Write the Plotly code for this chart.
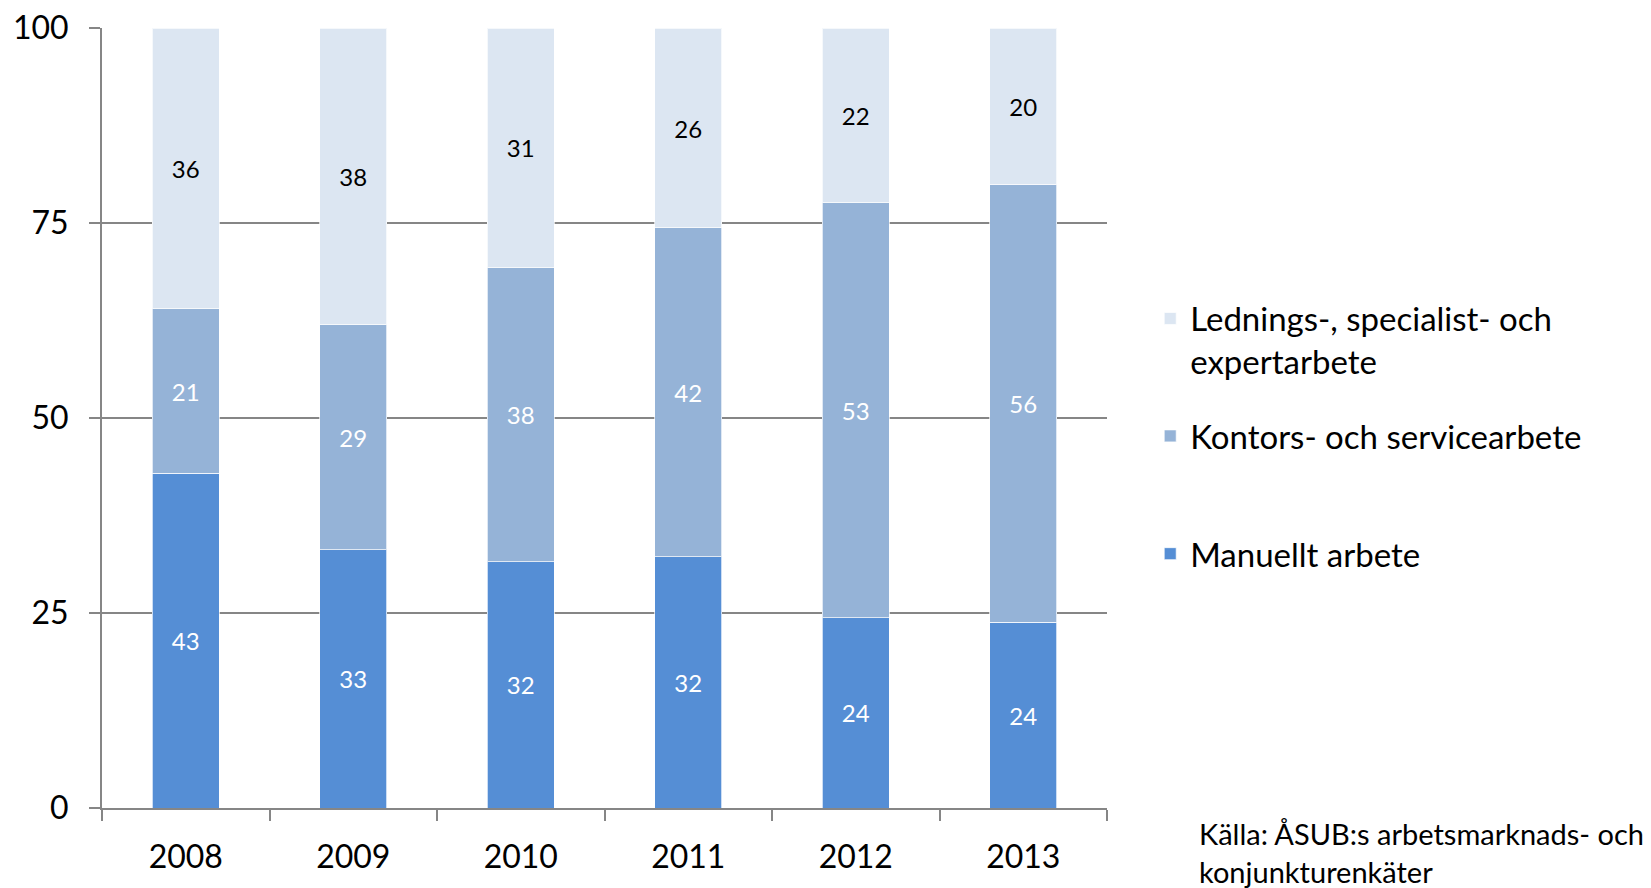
import plotly.graph_objects as go

years = ["2008", "2009", "2010", "2011", "2012", "2013"]
manuellt = [42.9, 33.1, 31.6, 32.2, 24.4, 23.8]
kontor = [21.1, 28.9, 37.7, 42.2, 53.2, 56.2]
ledning = [36.0, 38.0, 30.7, 25.6, 22.4, 20.0]

names = ["Manuellt arbete", "Kontors- och servicearbete",
         "Lednings-, specialist- och<br>expertarbete"]
colors = ["#558ED5", "#95B3D7", "#DCE6F2"]
text_colors = ["white", "white", "black"]
legends = ["legend3", "legend2", "legend"]

FONT = "Lato"
GRID = "#868686"

fig = go.Figure()
for vals, name, col, tcol, leg in zip([manuellt, kontor, ledning], names, colors, text_colors, legends):
    fig.add_trace(go.Bar(
        x=years, y=vals, name=name,
        marker=dict(color=col, line=dict(color="rgba(255,255,255,0.7)", width=1)),
        text=vals, texttemplate="%{y:.0f}",
        textposition="inside", insidetextanchor="middle",
        textfont=dict(family=FONT, size=24, color=tcol),
        legend=leg, showlegend=True,
    ))

leg_common = dict(x=1.043, xanchor="left", yanchor="middle", valign="top",
                  font=dict(family=FONT, size=33, color="black"),
                  bgcolor="rgba(0,0,0,0)")

# page body has an 8px margin, so the figure is 8px smaller and margins shifted
fig.update_layout(
    barmode="stack",
    bargap=0.6,
    width=1643, height=880,
    margin=dict(l=94, r=544, t=20, b=80, autoexpand=False),
    paper_bgcolor="white", plot_bgcolor="white",
    font=dict(family=FONT, color="black"),
    showlegend=True,
    uniformtext=dict(mode="show", minsize=10),
    legend=dict(y=0.6, **leg_common),
    legend2=dict(y=0.477, **leg_common),
    legend3=dict(y=0.326, **leg_common),
    annotations=[dict(
        text="Källa: ÅSUB:s arbetsmarknads- och<br>konjunkturenkäter",
        xref="paper", yref="paper", x=1.0896, y=-0.057,
        xanchor="left", yanchor="middle", align="left", showarrow=False,
        font=dict(family=FONT, size=29, color="black"),
    )],
)

fig.update_xaxes(
    showline=True, linecolor=GRID, linewidth=2,
    ticks="outside", tickson="boundaries", ticklen=11, tickwidth=2, tickcolor=GRID,
    tickfont=dict(family=FONT, size=32, color="black"),
    ticklabelstandoff=20,
    showgrid=False,
)
fig.update_yaxes(
    range=[0, 100.03], tickvals=[0, 25, 50, 75, 100],
    showline=True, linecolor=GRID, linewidth=2,
    ticks="outside", ticklen=11, tickwidth=2, tickcolor=GRID,
    tickfont=dict(family=FONT, size=32, color="black"),
    ticklabelstandoff=14, ticklabeloverflow="allow",
    showgrid=True, gridcolor=GRID, gridwidth=2,
    zeroline=False,
)

fig.write_html("out.html")
